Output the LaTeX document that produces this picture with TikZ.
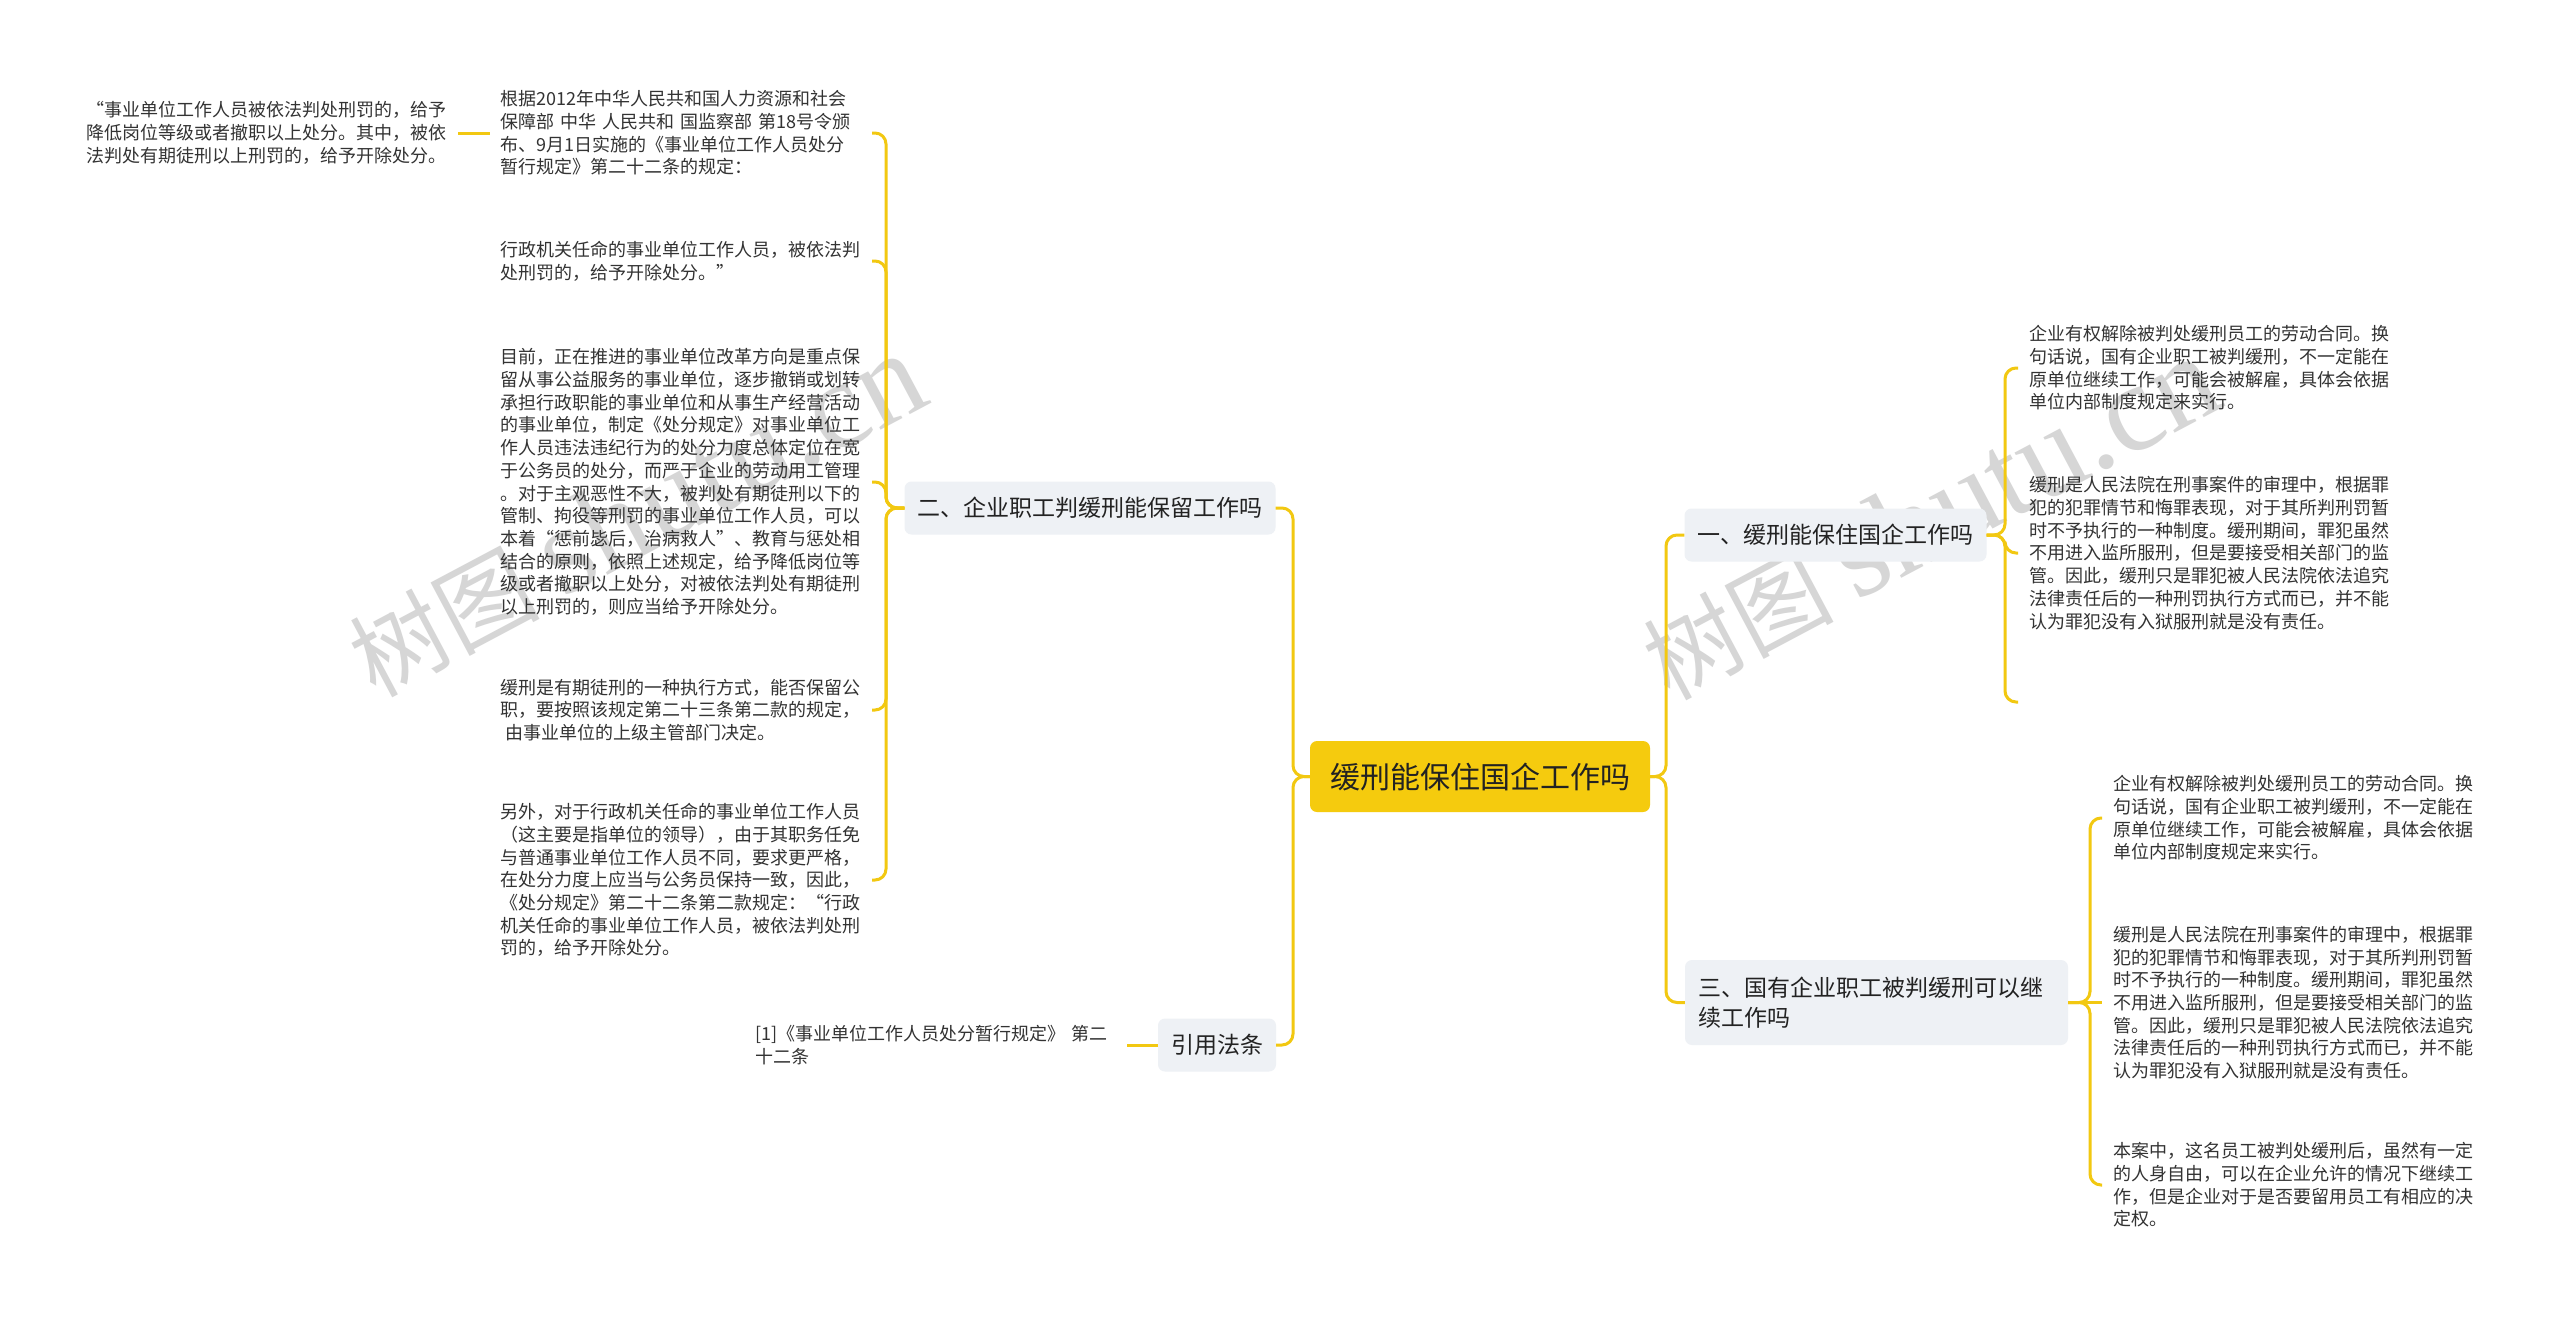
\documentclass[tikz,border=0pt]{standalone}
\usepackage{fontspec}
\setmainfont{Noto Sans CJK SC}
\newfontfamily\wmfont{Liberation Serif}
\definecolor{linec}{HTML}{F2C811}
\definecolor{rootc}{HTML}{F5CB0E}
\definecolor{boxc}{HTML}{EEF1F5}
\definecolor{txtc}{HTML}{333333}
\definecolor{txtd}{HTML}{222222}
\definecolor{wmc}{HTML}{D6D6D6}
\begin{document}
\begin{tikzpicture}[x=1pt,y=-1pt,
  conn/.style={draw=linec, line width=3pt, rounded corners=11pt},
  rootbox/.style={fill=rootc, rounded corners=7pt, text=txtd, font=\fontsize{30}{36}\selectfont, minimum width=340pt, minimum height=71pt, inner sep=0pt},
  branchbox/.style={fill=boxc, rounded corners=7pt, text=txtd, font=\fontsize{23}{30}\selectfont, inner xsep=13pt, inner ysep=4pt, minimum height=53pt},
  leaf/.style={text width=360pt, align=left, inner xsep=11pt, inner ysep=3pt, text=txtc, font=\fontsize{18}{22.7}\selectfont},
  wm/.style={text=wmc, rotate=28, inner sep=0pt}]
\useasboundingbox (0,0) rectangle (2560,1320);
\fill[white] (0,0) rectangle (2560,1320);

% watermarks
\node[wm] (wm1) at (636,515) {\fontsize{95}{95}\selectfont 树图 {\wmfont\fontsize{125}{125}\selectfont shutu.cn}};
\node[wm] (wm2) at (1930,518) {\fontsize{95}{95}\selectfont 树图 {\wmfont\fontsize{125}{125}\selectfont shutu.cn}};

% main nodes
\node[rootbox] (root) at (1480,776.5) {缓刑能保住国企工作吗};
\node[branchbox] (b2) at (1090,508) {二、企业职工判缓刑能保留工作吗};
\node[branchbox] (bref) at (1217,1045) {引用法条};
\node[branchbox] (b1) at (1835.5,535) {一、缓刑能保住国企工作吗};
\node[branchbox, text width=357pt, align=left, minimum height=85pt] (b3) at (1876.5,1002.5) {三、国有企业职工被判缓刑可以继\\续工作吗};

% spine x positions
\coordinate (sL) at (1293,0);
\coordinate (sR) at (1666,0);
\coordinate (s2) at (886,0);
\coordinate (s1) at (2005,0);
\coordinate (s3) at (2090,0);

% left leaves
\node[leaf, anchor=east] (l1) at (872,133) {根据2012年中华人民共和国人力资源和社会\\保障部 中华 人民共和 国监察部 第18号令颁\\布、9月1日实施的《事业单位工作人员处分\\暂行规定》第二十二条的规定：};
\node[leaf, anchor=east] (l0) at (458,133) {“事业单位工作人员被依法判处刑罚的，给予\\降低岗位等级或者撤职以上处分。其中，被依\\法判处有期徒刑以上刑罚的，给予开除处分。};
\node[leaf, anchor=east] (l2) at (872,261) {行政机关任命的事业单位工作人员，被依法判\\处刑罚的，给予开除处分。”};
\node[leaf, anchor=east] (l3) at (872,482) {目前，正在推进的事业单位改革方向是重点保\\留从事公益服务的事业单位，逐步撤销或划转\\承担行政职能的事业单位和从事生产经营活动\\的事业单位，制定《处分规定》对事业单位工\\作人员违法违纪行为的处分力度总体定位在宽\\于公务员的处分，而严于企业的劳动用工管理\\。对于主观恶性不大，被判处有期徒刑以下的\\管制、拘役等刑罚的事业单位工作人员，可以\\本着“惩前毖后，治病救人”、教育与惩处相\\结合的原则，依照上述规定，给予降低岗位等\\级或者撤职以上处分，对被依法判处有期徒刑\\以上刑罚的，则应当给予开除处分。};
\node[leaf, anchor=east] (l4) at (872,710) {缓刑是有期徒刑的一种执行方式，能否保留公\\职，要按照该规定第二十三条第二款的规定，\\\hspace*{5pt}由事业单位的上级主管部门决定。};
\node[leaf, anchor=east] (l5) at (872,880) {另外，对于行政机关任命的事业单位工作人员\\（这主要是指单位的领导），由于其职务任免\\与普通事业单位工作人员不同，要求更严格，\\在处分力度上应当与公务员保持一致，因此，\\《处分规定》第二十二条第二款规定：“行政\\机关任命的事业单位工作人员，被依法判处刑\\罚的，给予开除处分。};
\node[leaf, anchor=east] (lref) at (1127,1045) {[1]《事业单位工作人员处分暂行规定》~第二\\十二条};

% right leaves
\node[leaf, anchor=west] (r1) at (2018,368) {企业有权解除被判处缓刑员工的劳动合同。换\\句话说，国有企业职工被判缓刑，不一定能在\\原单位继续工作，可能会被解雇，具体会依据\\单位内部制度规定来实行。};
\node[leaf, anchor=west] (r2) at (2018,553) {缓刑是人民法院在刑事案件的审理中，根据罪\\犯的犯罪情节和悔罪表现，对于其所判刑罚暂\\时不予执行的一种制度。缓刑期间，罪犯虽然\\不用进入监所服刑，但是要接受相关部门的监\\管。因此，缓刑只是罪犯被人民法院依法追究\\法律责任后的一种刑罚执行方式而已，并不能\\认为罪犯没有入狱服刑就是没有责任。};
\coordinate (r3) at (2018,702);
\node[leaf, anchor=west] (q1) at (2102,818) {企业有权解除被判处缓刑员工的劳动合同。换\\句话说，国有企业职工被判缓刑，不一定能在\\原单位继续工作，可能会被解雇，具体会依据\\单位内部制度规定来实行。};
\node[leaf, anchor=west] (q2) at (2102,1002.5) {缓刑是人民法院在刑事案件的审理中，根据罪\\犯的犯罪情节和悔罪表现，对于其所判刑罚暂\\时不予执行的一种制度。缓刑期间，罪犯虽然\\不用进入监所服刑，但是要接受相关部门的监\\管。因此，缓刑只是罪犯被人民法院依法追究\\法律责任后的一种刑罚执行方式而已，并不能\\认为罪犯没有入狱服刑就是没有责任。};
\node[leaf, anchor=west] (q3) at (2102,1185) {本案中，这名员工被判处缓刑后，虽然有一定\\的人身自由，可以在企业允许的情况下继续工\\作，但是企业对于是否要留用员工有相应的决\\定权。};

% connectors from root
\draw[conn] (root.west) -| (sL |- b2.east) -- (b2.east);
\draw[conn] (root.west) -| (sL |- bref.east) -- (bref.east);
\draw[conn] (root.east) -| (sR |- b1.west) -- (b1.west);
\draw[conn] (root.east) -| (sR |- b3.west) -- (b3.west);

% branch 2 children
\draw[conn] (b2.west) -| (s2 |- l1.east) -- (l1.east);
\draw[conn] (b2.west) -| (s2 |- l2.east) -- (l2.east);
\draw[conn] (b2.west) -| (s2 |- l3.east) -- (l3.east);
\draw[conn] (b2.west) -| (s2 |- l4.east) -- (l4.east);
\draw[conn] (b2.west) -| (s2 |- l5.east) -- (l5.east);
\draw[conn] (l1.west) -- (l0.east);
\draw[conn] (bref.west) -- (lref.east);

% branch 1 children
\draw[conn] (b1.east) -| (s1 |- r1.west) -- (r1.west);
\draw[conn] (b1.east) -| (s1 |- r2.west) -- (r2.west);
\draw[conn] (b1.east) -| (s1 |- r3) -- (r3);

% branch 3 children
\draw[conn] (b3.east) -| (s3 |- q1.west) -- (q1.west);
\draw[conn] (b3.east) -- (q2.west);
\draw[conn] (b3.east) -| (s3 |- q3.west) -- (q3.west);
\end{tikzpicture}
\end{document}
